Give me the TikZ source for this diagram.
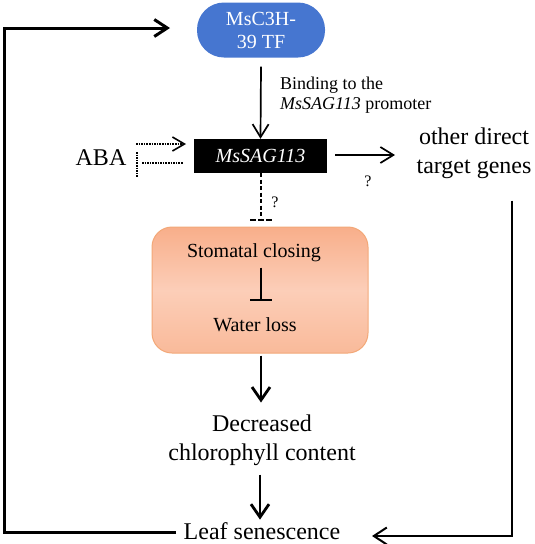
\documentclass[tikz,border=0pt]{standalone}
\usepackage{fontspec}
\setmainfont{Liberation Serif}
\usetikzlibrary{arrows.meta}
\definecolor{tfblue}{RGB}{70,118,208}
\definecolor{orTop}{RGB}{248,174,138}
\definecolor{orMid}{RGB}{252,206,184}
\definecolor{orBot}{RGB}{249,186,154}
\definecolor{orLine}{RGB}{243,168,120}
\tikzset{
  big/.style={font=\fontsize{24}{29}\selectfont, align=center, inner sep=0pt},
  mid/.style={font=\fontsize{20}{23}\selectfont, align=center, inner sep=0pt},
  small/.style={font=\fontsize{18}{20}\selectfont, align=left, inner sep=0pt},
  qmark/.style={font=\fontsize{16}{18}\selectfont, inner sep=0pt},
  arr/.style={line width=2.8pt, -{Straight Barb[length=13pt,width=18pt]}},
  thinarr/.style={line width=1.7pt, -{Straight Barb[length=13pt,width=16pt]}},
  dotarr/.style={line width=1.6pt, densely dotted, -{Straight Barb[length=12pt,width=14pt,line width=1.6pt]}},
  dotline/.style={line width=1.6pt, densely dotted},
  loopline/.style={line width=3pt},
}
\begin{document}
\begin{tikzpicture}[x=1pt,y=-1pt]
\useasboundingbox (0,0) rectangle (535,544);
\fill[white] (0,0) rectangle (535,544);

% nodes
\node[mid, fill=tfblue, text=white, rounded corners=27pt, minimum width=128pt, minimum height=55pt] (tf) at (261,30) {MsC3H-\\39 TF};
\node[small, anchor=west] (bind) at (280,95) {Binding to the\\\textit{MsSAG113} promoter};
\node[mid, fill=black, text=white, minimum width=133pt, minimum height=34pt, font=\fontsize{20}{23}\selectfont\itshape] (sag) at (260.5,156) {MsSAG113};
\node[big, anchor=base] (aba) at (101,165) {ABA};
\node[big] (other) at (474,153) {other direct\\target genes};
\node[qmark] (q1) at (368,181) {?};
\node[qmark] (q2) at (275,202) {?};

\node[draw=orLine, line width=1pt, rounded corners=20pt, top color=orTop, bottom color=orBot, middle color=orMid, minimum width=216pt, minimum height=126pt] (box) at (260,290) {};
\node[mid, anchor=base] (stom) at (254,257) {Stomatal closing};
\node[mid, anchor=base] (water) at (255,331) {Water loss};

\node[big] (dec) at (262,440) {Decreased\\chlorophyll content};
\node[big, anchor=base] (leaf) at (262,539) {Leaf senescence};

% coordinates
\coordinate (abaA1) at (136,144);
\coordinate (abaA2) at (186,144);
\coordinate (abaV1) at (137,152);
\coordinate (abaV2) at (137,177);
\coordinate (abaH1) at (142,163);
\coordinate (abaH2) at (183,163);
\coordinate (qbarL) at (250,220);
\coordinate (qbarR) at (272,220);
\coordinate (qbarM) at (261,220);
\coordinate (ibarL) at (250,300);
\coordinate (ibarR) at (272,300);
\coordinate (ibarM) at (261,300);
\coordinate (otherEnd) at (395,155);
\coordinate (rDown) at (512,536);
\coordinate (leafR) at (372,536);
\coordinate (lBot) at (4,532);
\coordinate (lTop) at (4,28);
\coordinate (tfL) at (170,28);
\coordinate (leafL) at (176,532);

% connectors
\draw[thinarr] (tf.south) ++(0,9) -- (sag.north);
\draw[thinarr] (sag.east) ++(8,-1) -- (otherEnd);
\draw[dotarr] (abaA1) -- (abaA2);
\draw[dotline] (abaV1) -- (abaV2);
\draw[dotline] (abaH1) -- (abaH2);
\draw[line width=1.6pt, dash pattern=on 4pt off 2.5pt] (sag.south -| qbarM) -- (qbarM);
\draw[line width=1.6pt, dash pattern=on 6pt off 2pt on 6pt off 2pt on 6pt] (qbarL) -- (qbarR);
\draw[line width=2.5pt] (stom.south -| ibarM) ++(0,6) -- (ibarM);
\draw[line width=2.5pt] (ibarL) -- (ibarR);
\draw[arr] (box.south -| dec.north) ++(-1,2) -- ++(0,47);
\draw[arr] (dec.south) ++(-2,9) -- ++(0,45);
\draw[line width=2pt, -{Straight Barb[length=13pt,width=17pt]}] (other.south -| rDown) ++(0,22) -- (rDown) -- (leafR);
\draw[loopline, -{Straight Barb[length=13pt,width=17pt]}] (leafL) -- (lBot) -- (lTop) -- (tfL);
\end{tikzpicture}
\end{document}
